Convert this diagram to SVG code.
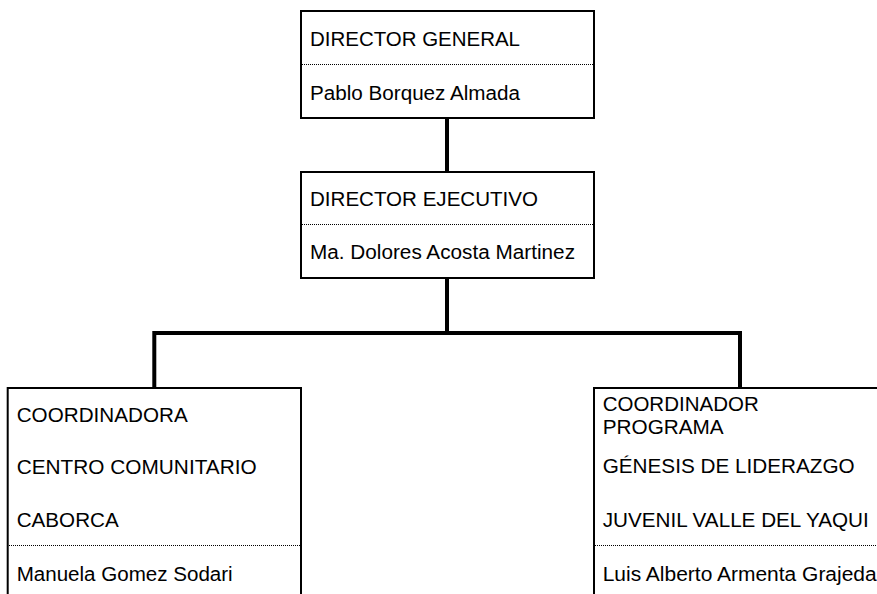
<svg xmlns="http://www.w3.org/2000/svg" width="877" height="594" viewBox="0 0 877 594">
<style>
.box{fill:#fff;stroke:#000;stroke-width:2}
.sep{stroke:#000;stroke-width:1;stroke-dasharray:1 1}
.t{font-family:"Liberation Sans",Arial,sans-serif;font-size:19.6px;fill:#000}
.con{fill:none;stroke:#000;stroke-width:4}
</style>
<rect width="877" height="594" fill="#fff"/>
<g id="connectors">
<line class="con" x1="447" y1="118" x2="447" y2="172"/>
<line class="con" x1="447" y1="278" x2="447" y2="333"/>
<polyline class="con" points="154.3,388 154.3,333 740,333 740,388"/>
</g>
<g id="director-general">
<rect class="box" x="301" y="11" width="293" height="107"/>
<line class="sep" x1="302" y1="64.5" x2="593" y2="64.5"/>
<text class="t" x="310" y="45.7" textLength="210" lengthAdjust="spacingAndGlyphs">DIRECTOR GENERAL</text>
<text class="t" x="310" y="99.7" textLength="210" lengthAdjust="spacingAndGlyphs">Pablo Borquez Almada</text>
</g>
<g id="director-ejecutivo">
<rect class="box" x="301" y="172" width="293" height="106"/>
<line class="sep" x1="302" y1="224.5" x2="593" y2="224.5"/>
<text class="t" x="310" y="205.7" textLength="228" lengthAdjust="spacingAndGlyphs">DIRECTOR EJECUTIVO</text>
<text class="t" x="310" y="259.3" textLength="265" lengthAdjust="spacingAndGlyphs">Ma. Dolores Acosta Martinez</text>
</g>
<g id="coordinadora">
<rect class="box" x="7.7" y="388" width="293.3" height="240"/>
<line class="sep" x1="9" y1="545.5" x2="300" y2="545.5"/>
<text class="t" x="16.7" y="422.3" textLength="171" lengthAdjust="spacingAndGlyphs">COORDINADORA</text>
<text class="t" x="16.7" y="474.3" textLength="240" lengthAdjust="spacingAndGlyphs">CENTRO COMUNITARIO</text>
<text class="t" x="16.7" y="526.7" textLength="102" lengthAdjust="spacingAndGlyphs">CABORCA</text>
<text class="t" x="16.7" y="580.7" textLength="216" lengthAdjust="spacingAndGlyphs">Manuela Gomez Sodari</text>
</g>
<g id="coordinador">
<rect class="box" x="594" y="388" width="320" height="240"/>
<line class="sep" x1="595" y1="545.5" x2="877" y2="545.5"/>
<text class="t" x="602.7" y="410.7" textLength="156" lengthAdjust="spacingAndGlyphs">COORDINADOR</text>
<text class="t" x="602.7" y="434" textLength="121" lengthAdjust="spacingAndGlyphs">PROGRAMA</text>
<text class="t" x="602.7" y="473.3" textLength="252" lengthAdjust="spacingAndGlyphs">GÉNESIS DE LIDERAZGO</text>
<text class="t" x="602.7" y="526.7" textLength="266" lengthAdjust="spacingAndGlyphs">JUVENIL VALLE DEL YAQUI</text>
<text class="t" x="602.7" y="580.7" textLength="274" lengthAdjust="spacingAndGlyphs">Luis Alberto Armenta Grajeda</text>
</g>
</svg>
